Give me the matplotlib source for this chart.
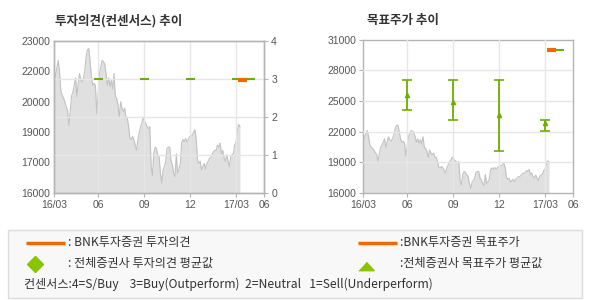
import matplotlib
matplotlib.use('Agg')
import matplotlib.pyplot as plt
import numpy as np
from matplotlib.patches import Rectangle

# ---------------- data ----------------
price = [21100, 21450, 21800, 22100, 21500, 20650, 20500, 20350, 20200, 19950,
         19800, 19100, 19800, 20450, 20650, 20950, 21300, 20450, 21050, 21500,
         21200, 21100, 21300, 21650, 22300, 22600, 22650, 22050, 21350, 20950,
         21050, 20950, 19650, 20500, 21500, 21800, 22100, 22050, 21950, 21500,
         20950, 21300, 20900, 21200, 20800, 21500, 20450, 20350, 20050, 19500,
         20200, 19900, 19750, 19900, 19500, 19450, 19050, 18500, 18450, 18600,
         18450, 18200, 17950, 18450, 18750, 19050, 19200, 19500, 19300, 19200,
         19050, 18950, 19050, 17200, 16800, 17800, 18100, 18050, 17750, 17650,
         16900, 16450, 17050, 17200, 17450, 18050, 18100, 18100, 17450, 17300,
         16900, 16750, 17800, 16900, 17100, 17350, 18300, 18450, 18350, 18500,
         18350, 18450, 18600, 18600, 18650, 18800, 18900, 18450, 17500, 17350,
         17450, 17050, 17200, 17350, 17100, 17350, 17450, 17600, 17600, 17750,
         17900, 17950, 17950, 18200, 18100, 18300, 17800, 17950, 17600, 17450,
         17750, 17450, 17200, 17650, 17750, 17800, 18200, 18300, 18900, 19150,
         19050]

x_labels = ['16/03', '06', '09', '12', '17/03', '06']
x_ticks = [0, 44, 90, 136, 182, 210]          # axis time units (0..210)
price_end = 185.7                              # last trading day on the axis

# consensus opinion (전체증권사 투자의견 평균값) segments
cons_start = [39.7, 85.7, 131.7, 177.7]
cons_end = [48.7, 94.7, 140.7, 200.7]
cons_val = [3, 3, 3, 3]
# BNK opinion
bnk_op_start, bnk_op_end, bnk_op_val = 183.7, 192.7, 2.97

# target price consensus
tp_x = [44, 90, 136, 182]
tp_high = [27050, 27050, 27050, 23100]
tp_low = [24150, 23100, 20150, 22100]
tp_mean = [25600, 24900, 23600, 22800]
# BNK target price
bnk_tp_start, bnk_tp_end, bnk_tp_val = 183.7, 192.7, 30000
cons_tp_start, cons_tp_end, cons_tp_val = 183.7, 200.7, 30000

left_ticks = [16000, 17400, 18800, 20200, 21600, 23000]
left_labels = ['16000', '17000', '19000', '20000', '22000', '23000']
right_ticks = [0, 1, 2, 3, 4]
tp_ticks = [16000, 19000, 22000, 25000, 28000, 31000]

# ---------------- style ----------------
ORANGE = '#ee6a00'
GREEN = '#6fae00'
GREEN2 = '#88c400'
AREA = '#e0e0e0'
AREA_LINE = '#c2c2c2'
GRID = '#e6e6e6'
SPINE = '#b4b4b4'
TXT = '#555555'
NUMFONT = 'Liberation Sans'
KFONT = ['Noto Sans CJK KR', 'DejaVu Sans']

plt.rcParams['font.family'] = KFONT

W, H = 590, 300
fig = plt.figure(figsize=(W / 100, H / 100), dpi=100)
fig.patch.set_facecolor('white')

t = np.linspace(0, price_end, len(price))


def style_axes(a):
    for s in a.spines.values():
        s.set_color(SPINE)
        s.set_linewidth(1)


# ---------------- left chart ----------------
ax = fig.add_axes([54.3 / W, 1 - 192.7 / H, 210 / W, 151.7 / H])
ax.fill_between(t, price, 16000, color=AREA, lw=0, zorder=1)
ax.plot(t, price, color=AREA_LINE, lw=0.8, zorder=2)
ax.set_xlim(0, 210)
ax.set_ylim(16000, 23000)
ax.set_yticks(left_ticks)
ax.set_yticklabels(left_labels, fontfamily=NUMFONT, fontsize=7.5, color=TXT)
ax.tick_params(axis='y', length=0, pad=3)
ax.set_xticks(x_ticks)
ax.set_xticklabels(x_labels, fontfamily=NUMFONT, fontsize=7.5, color=TXT)
ax.tick_params(axis='x', length=3, color=SPINE, pad=2)
style_axes(ax)

ax2 = ax.twinx()
ax2.set_ylim(0, 4)
ax2.set_xlim(0, 210)
ax2.set_yticks(right_ticks)
ax2.set_yticklabels([str(v) for v in right_ticks], fontfamily=NUMFONT,
                    fontsize=7.5, color=TXT)
ax2.tick_params(axis='y', length=3, color=SPINE, pad=2)
for y in [1, 2, 3]:
    ax2.axhline(y, color=GRID, lw=1, zorder=1)
for xv in x_ticks[1:-1]:
    ax2.axvline(xv, color=GRID, lw=1, zorder=1)
ax2.hlines(cons_val, cons_start, cons_end, color=GREEN, lw=1.5, zorder=3)
ax2.hlines(bnk_op_val, bnk_op_start, bnk_op_end, color=ORANGE, lw=3, zorder=4)
style_axes(ax2)

# ---------------- right chart ----------------
ax3 = fig.add_axes([363.3 / W, 1 - 193 / H, 210 / W, 153.5 / H])
ax3.fill_between(t, price, 16000, color=AREA, lw=0, zorder=1)
ax3.plot(t, price, color=AREA_LINE, lw=0.8, zorder=2)
ax3.set_xlim(0, 210)
ax3.set_ylim(16000, 31000)
ax3.set_yticks(tp_ticks)
ax3.set_yticklabels([str(v) for v in tp_ticks], fontfamily=NUMFONT,
                    fontsize=7.5, color=TXT)
ax3.tick_params(axis='y', length=3, color=SPINE, pad=2)
ax3.set_xticks(x_ticks)
ax3.set_xticklabels(x_labels, fontfamily=NUMFONT, fontsize=7.5, color=TXT)
ax3.tick_params(axis='x', length=3, color=SPINE, pad=2)
for y in tp_ticks[1:-1]:
    ax3.axhline(y, color=GRID, lw=1, zorder=3)
for xv in x_ticks[1:-1]:
    ax3.axvline(xv, color=GRID, lw=1, zorder=3)
mean = np.array(tp_mean)
ax3.errorbar(tp_x, mean, yerr=[mean - np.array(tp_low), np.array(tp_high) - mean],
             fmt='none', ecolor=GREEN, elinewidth=1.3, capsize=3.3, capthick=1.2,
             zorder=5)
ax3.plot(tp_x, tp_mean, linestyle='none', marker='^', ms=3, color=GREEN,
         zorder=6)
ax3.hlines(cons_tp_val, cons_tp_start, cons_tp_end, color=GREEN, lw=1.5, zorder=5)
ax3.hlines(bnk_tp_val, bnk_tp_start, bnk_tp_end, color=ORANGE, lw=3, zorder=6)
style_axes(ax3)

# ---------------- titles ----------------
fig.text(55 / W, 1 - 20.7 / H, '투자의견(컨센서스) 추이', fontsize=9,
         fontweight='bold', color='#333333', va='center', ha='left')
fig.text(367 / W, 1 - 20.7 / H, '목표주가 추이', fontsize=9,
         fontweight='bold', color='#333333', va='center', ha='left')

# ---------------- legend box ----------------
ov = fig.add_axes([0, 0, 1, 1], zorder=-1)
ov.set_xlim(0, W)
ov.set_ylim(H, 0)
ov.axis('off')
ov.add_patch(Rectangle((8.3, 229.5), 573.7, 68.5, facecolor='#f8f8f8',
                       edgecolor='#dcdcdc', lw=1))
LT = '#333333'
LFS = 8.7
ov.plot([25.7, 65], [242.7, 242.7], color=ORANGE, lw=2.5, solid_capstyle='butt')
ov.text(68, 242.7, ': BNK투자증권 투자의견', fontsize=LFS, color=LT, va='center')
ov.plot([357.8, 397], [242.7, 242.7], color=ORANGE, lw=2.5, solid_capstyle='butt')
ov.text(400, 242.7, ':BNK투자증권 목표주가', fontsize=LFS, color=LT, va='center')
ov.plot([34.8], [263.5], marker='D', ms=8, color=GREEN2, linestyle='none')
ov.text(68, 263.5, ': 전체증권사 투자의견 평균값', fontsize=LFS, color=LT, va='center')
tri = [(-1, -0.55), (1, -0.55), (0, 0.55)]
ov.plot([365.5], [265.5], marker=tri, ms=11, color=GREEN2, linestyle='none')
ov.text(400, 263.5, ':전체증권사 목표주가 평균값', fontsize=LFS, color=LT, va='center')
ov.text(23.5, 284.3, '컨센서스:4=S/Buy    3=Buy(Outperform)  2=Neutral   1=Sell(Underperform)',
        fontsize=LFS, color=LT, va='center')

fig.savefig('out.png', dpi=100, facecolor='white')
